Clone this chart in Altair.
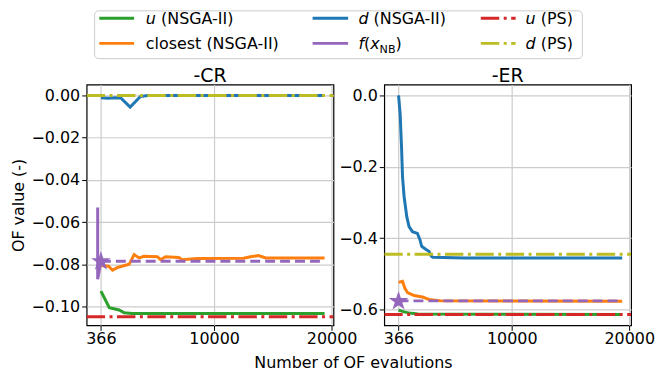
import altair as alt
import pandas as pd

FONT = "DejaVu Sans"

# ---------------- data ----------------
x_ticks = [366, 10000, 20000]
x_domain = [-850, 20160]
cr_y_ticks = [0.0, -0.02, -0.04, -0.06, -0.08, -0.10]
er_y_ticks = [0.0, -0.2, -0.4, -0.6]
cr_y_domain = [-0.1088, 0.0052]
er_y_domain = [-0.6447, 0.0307]
panel_titles = ["-CR", "-ER"]
x_title = "Number of OF evalutions"
y_title = "OF value (-)"

# -CR panel
cr_u_x = [366, 654, 1077, 1922, 2346, 3000, 19400]
cr_u_y = [-0.0926, -0.0957, -0.1004, -0.1015, -0.1028, -0.1032, -0.1032]
cr_closest_x = [366, 1017, 1356, 1779, 2769, 3192, 3615, 4038, 5163, 5442, 5865,
                6999, 7278, 8547, 12500, 13200, 13767, 14400, 19400]
cr_closest_y = [-0.0805, -0.0808, -0.0827, -0.0814, -0.0799, -0.0753, -0.0769,
                -0.0761, -0.0763, -0.0777, -0.0763, -0.0767, -0.0777, -0.0772,
                -0.0770, -0.0762, -0.0758, -0.0769, -0.0769]
cr_d_x = [366, 958, 1635, 2058, 2854, 3725, 4342, 19400]
cr_d_y = [-0.0011, -0.0013, -0.0011, -0.0012, -0.0055, -0.0005, 0.0, 0.0]
cr_f_start_x = [90, 90, 366]
cr_f_start_y = [-0.053, -0.087, -0.0785]
cr_f_value = -0.0785
cr_u_ps = -0.1047
cr_d_ps = 0.0

# -ER panel
er_u_x = [366, 840, 1127, 1500, 2000, 19400]
er_u_y = [-0.602, -0.607, -0.609, -0.611, -0.613, -0.614]
er_closest_x = [366, 704, 899, 1127, 1685, 2395, 2953, 4000, 19400]
er_closest_y = [-0.524, -0.521, -0.540, -0.553, -0.561, -0.565, -0.572, -0.576, -0.577]
er_d_x = [366, 501, 620, 704, 840, 1067, 1262, 1549, 1972, 2192, 2336, 2674,
          2953, 3155, 3300, 6000, 19400]
er_d_y = [0.0, -0.051, -0.144, -0.228, -0.284, -0.340, -0.368, -0.382, -0.387,
          -0.405, -0.423, -0.431, -0.437, -0.451, -0.454, -0.456, -0.456]
er_f_start_x = [366]
er_f_start_y = [-0.577]
er_f_value = -0.576
er_u_ps = -0.614
er_d_ps = -0.445

nsga_end = 19400
x_nb = 366

# colours
c_u = "#2ca02c"
c_closest = "#ff7f0e"
c_d = "#1f77b4"
c_f = "#9467bd"
c_u_ps = "#d62728"
c_d_ps = "#bcbd22"

# legend (column-major, 3 columns)
legend_colors = [c_u, c_closest, c_d, c_f, c_u_ps, c_d_ps]
legend_dashed = [False, False, False, False, True, True]
legend_pieces = [
    [("u", True, False), ("(NSGA-II)", False, False)],
    [("closest (NSGA-II)", False, False)],
    [("d", True, False), ("(NSGA-II)", False, False)],
    [("f", True, False), ("(", False, False), ("x", True, False), ("NB", False, True), (")", False, False)],
    [("u", True, False), ("(PS)", False, False)],
    [("d", True, False), ("(PS)", False, False)],
]

# ---------------- styling ----------------
DASHDOT = [18.5, 4.5, 3, 4.5]
DASHED = [10, 5]
LW = 3
EM = {"u": 0.634, "d": 0.635, "f": 0.352, "x": 0.592, "(": 0.390, ")": 0.390,
      "N": 0.748, "B": 0.686}
SPACE = 0.318
STAR = ("M0,-1L0.2245,-0.309L0.951,-0.309L0.363,0.118L0.588,0.809L0,0.382"
        "L-0.588,0.809L-0.363,0.118L-0.951,-0.309L-0.2245,-0.309Z")


def line(x, y, color, dash=None, width=LW):
    df = pd.DataFrame({"x": x, "y": y})
    kw = dict(color=color, strokeWidth=width, clip=True, strokeCap="butt")
    if dash is not None:
        kw["strokeDash"] = dash
    return alt.Chart(df).mark_line(**kw)


def text(txt, x, y, size=16, italic=False, align="left", baseline="alphabetic"):
    df = pd.DataFrame({"t": [txt]})
    return alt.Chart(df).mark_text(
        font=FONT, fontSize=size, fontStyle="italic" if italic else "normal",
        align=align, baseline=baseline, color="black"
    ).encode(x=alt.value(x), y=alt.value(y), text="t:N")


def panel(series, ydom, yticks, yfmt, title, extra, with_ytitle):
    xsc = alt.Scale(domain=x_domain, nice=False, zero=False)
    ysc = alt.Scale(domain=ydom, nice=False, zero=False)
    xenc = alt.X("x:Q", scale=xsc,
                 axis=alt.Axis(values=x_ticks, format="d", title=None, labelFlush=False))
    yax = dict(values=yticks, format=yfmt, labelFlush=False)
    yax["title"] = y_title if with_ytitle else None
    yenc = alt.Y("y:Q", scale=ysc, axis=alt.Axis(**yax))
    layers = [l.encode(x=xenc, y=yenc) for l in series]
    layers.append(text(title, 124, -3, size=19, align="center"))
    layers += extra
    return alt.layer(*layers).properties(width=248, height=242)


def ps_line(val, color):
    return line([x_domain[0], x_domain[1]], [val, val], color, DASHDOT)


def star(x, y):
    df = pd.DataFrame({"x": [x], "y": [y]})
    return alt.Chart(df).mark_point(shape=STAR, size=430, filled=True,
                                    color=c_f, opacity=1)


# legend layers (pixel positions relative to left plot area)
def legend_layers():
    out = []
    box = alt.Chart(pd.DataFrame({"a": [0]})).mark_rect(
        fill="white", stroke="#cccccc", strokeWidth=1, cornerRadius=4
    ).encode(x=alt.value(8), x2=alt.value(498), y=alt.value(-74), y2=alt.value(-26))
    out.append(box)
    col_line = [(12.7, 47.7), (227, 262.7), (396, 431)]
    col_text = [59.5, 273.0, 441.0]
    row_mid = [-66.5, -41.3]
    row_base = [-60.7, -35.5]
    for i, pieces in enumerate(legend_pieces):
        c, r = i // 2, i % 2
        kw = dict(color=legend_colors[i], strokeWidth=LW, strokeCap="butt")
        if legend_dashed[i]:
            kw["strokeDash"] = DASHDOT
        out.append(
            alt.Chart(pd.DataFrame({"a": [0]})).mark_rule(**kw).encode(
                x=alt.value(col_line[c][0]), x2=alt.value(col_line[c][1]),
                y=alt.value(row_mid[r]))
        )
        xpos = col_text[c]
        for j, (t, it, sub) in enumerate(pieces):
            size = 11.2 if sub else 16
            ybase = row_base[r] + (3.5 if sub else 0)
            out.append(text(t, xpos, ybase, size=size, italic=it))
            if t in ("u", "d") and it:
                xpos += (EM[t] + SPACE) * 16
            else:
                xpos += sum(EM.get(ch, 0.6) for ch in t) * size
    out.append(text(x_title, 268, 285, size=16, align="center"))
    return out


cr_series = [
    line(cr_u_x, cr_u_y, c_u),
    line(cr_closest_x, cr_closest_y, c_closest),
    line(cr_d_x, cr_d_y, c_d),
    line(cr_f_start_x, cr_f_start_y, c_f),
    line([x_nb, nsga_end], [cr_f_value, cr_f_value], c_f, DASHED),
    ps_line(cr_u_ps, c_u_ps),
    ps_line(cr_d_ps, c_d_ps),
    star(x_nb, cr_f_value),
]
er_series = [
    line(er_u_x, er_u_y, c_u),
    line(er_closest_x, er_closest_y, c_closest),
    line(er_d_x, er_d_y, c_d),
    line([x_nb, nsga_end], [er_f_value, er_f_value], c_f, DASHED),
    ps_line(er_u_ps, c_u_ps),
    ps_line(er_d_ps, c_d_ps),
    star(er_f_start_x[0], er_f_start_y[0]),
]

left = panel(cr_series, cr_y_domain, cr_y_ticks, ".2f", panel_titles[0],
             legend_layers(), True)
right = panel(er_series, er_y_domain, er_y_ticks, ".1f", panel_titles[1], [], False)

chart = alt.hconcat(left, right, spacing=51, bounds="flush").properties(
    padding={"left": 2, "top": 0, "right": 0, "bottom": 0}
).configure_view(
    stroke="black", strokeWidth=1.2
).configure_axis(
    labelFont=FONT, labelFontSize=16, labelColor="black",
    titleFont=FONT, titleFontSize=16, titleFontWeight="normal", titleColor="black",
    titlePadding=4, tickColor="black", tickSize=5, tickWidth=1,
    domain=False, gridColor="#cccccc", gridWidth=1.2, labelPadding=2
).configure_axisX(labelPadding=0)

chart.save("out.html", embed_options={"renderer": "svg", "actions": False})
